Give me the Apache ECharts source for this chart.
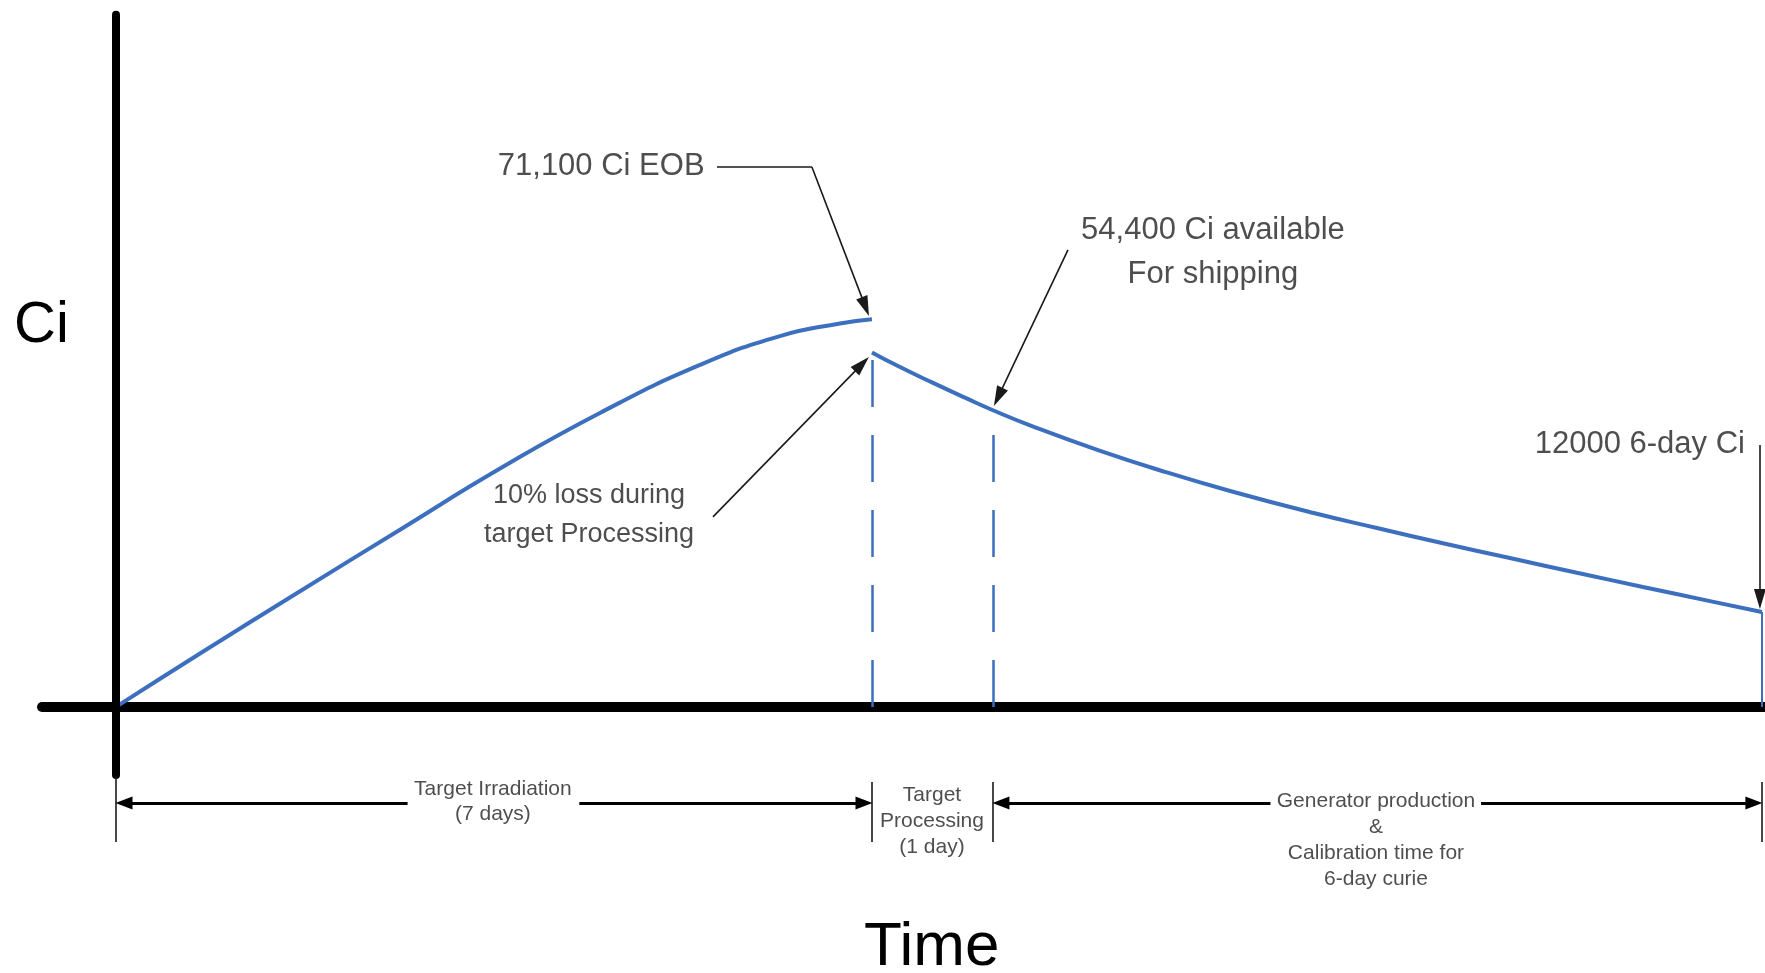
<!DOCTYPE html>
<html><head><meta charset="utf-8">
<script src="https://cdn.jsdelivr.net/npm/echarts@6/dist/echarts.min.js"></script>
<style>html,body{margin:0;padding:0;background:#fff}#c{width:1765px;height:973px}</style>
</head><body><div id="c"></div>
<script>
// Activity build-up during irradiation (time in days, activity in Ci)
const buildTime = [0, 0.778, 1.704, 2.63, 3.556, 4.481, 5.407, 6.148, 6.704, 7.0];
const buildCi   = [0, 9800, 21200, 32500, 43700, 53900, 62700, 68000, 70300, 71100];
// Decay after the 10% processing loss
const decayTime = [7.0, 7.241, 7.556, 7.861, 8.12, 8.481, 9.093, 9.713, 10.333, 11.10, 11.676, 12.287, 12.907, 13.528, 14.139, 14.759, 15.24];
const decayCi   = [65000, 62500, 59500, 56700, 54400, 51500, 47100, 43100, 39500, 35500, 32800, 30000, 27300, 24600, 22000, 19400, 17400];
const shipIndex = 4;
// Phase boundaries (days): start, end of irradiation (EOB), end of processing, calibration
const phaseBounds = [0, 7, 8.12, 15.24];
const phaseLabels = ['Target Irradiation\n(7 days)', 'Target\nProcessing\n(1 day)', 'Generator production\n&\nCalibration time for\n6-day curie'];
const noteTexts = ['71,100 Ci EOB', '10% loss during\ntarget Processing', '54,400 Ci available\nFor shipping', '12000 6-day Ci'];

const FONT = "'Liberation Sans', Arial, sans-serif";
const BLUE = '#3d6fbf';
const TXT = '#222';

const zip = (a, b) => a.map((v, i) => [v, b[i]]);
const dimY = -17600, tickTop = -13750, tickBot = -24750;
const aOff = 0.074;
// gaps in the span arrows where their labels sit (days)
const gap1 = [2.70, 4.29], gap3 = [10.69, 12.64];

const chart = echarts.init(document.getElementById('c'));
chart.setOption({
  animation: false,
  textStyle: { fontFamily: FONT },
  grid: { left: 42, right: 0, top: 11, bottom: 73 },
  xAxis: {
    type: 'value', min: -0.685, max: 15.269,
    axisLine: { show: true, onZero: true, lineStyle: { color: '#000', width: 10 } },
    axisTick: { show: false }, axisLabel: { show: false }, splitLine: { show: false }
  },
  yAxis: {
    type: 'value', min: -35400, max: 127600,
    axisLine: { show: false }, axisTick: { show: false }, axisLabel: { show: false }, splitLine: { show: false }
  },
  graphic: [
    { type: 'text', left: 14, top: 297, style: { text: 'Ci', font: "58px " + FONT, fill: '#000' } },
    { type: 'text', left: 864, top: 917, style: { text: 'Time', font: "62px " + FONT, fill: '#000' } }
  ],
  series: [
    {
      name: 'build', type: 'line', data: zip(buildTime, buildCi), smooth: 0.5,
      showSymbol: false, symbol: 'none', lineStyle: { color: BLUE, width: 4 }, z: 5
    },
    {
      name: 'decay', type: 'line', data: zip(decayTime, decayCi), smooth: 0.5,
      showSymbol: false, symbol: 'none', lineStyle: { color: BLUE, width: 4 }, z: 5,
      markLine: {
        silent: true, symbol: ['none', 'none'], label: { show: false },
        data: [
          [{ coord: [phaseBounds[1], 0], lineStyle: { type: [47, 28], width: 2.5, color: BLUE } }, { coord: [phaseBounds[1], decayCi[0]] }],
          [{ coord: [phaseBounds[2], 0], lineStyle: { type: [47, 28], width: 2.5, color: BLUE } }, { coord: [phaseBounds[2], decayCi[shipIndex]] }],
          [{ coord: [phaseBounds[3], 0], lineStyle: { type: 'solid', width: 2, color: BLUE } }, { coord: [phaseBounds[3], decayCi[decayCi.length - 1]] }]
        ]
      }
    },
    // vertical (Ci) axis
    {
      name: 'yaxis', type: 'lines', coordinateSystem: 'cartesian2d', silent: true, z: 6,
      lineStyle: { color: '#000', width: 8, opacity: 1, curveness: 0, cap: 'round' },
      data: [{ coords: [[0, 126900], [0, -12500]] }]
    },
    // leader lines without arrow and phase ticks
    {
      name: 'leaderPlain', type: 'lines', coordinateSystem: 'cartesian2d', silent: true, z: 7,
      lineStyle: { color: '#1a1a1a', width: 1.6, opacity: 1, curveness: 0 },
      data: [
        { coords: [[5.565, 99010], [6.444, 99010]] },
        { coords: [[phaseBounds[0], tickTop + 1000], [phaseBounds[0], tickBot]] },
        { coords: [[phaseBounds[1], tickTop], [phaseBounds[1], tickBot]] },
        { coords: [[phaseBounds[2], tickTop], [phaseBounds[2], tickBot]] },
        { coords: [[phaseBounds[3], tickTop], [phaseBounds[3], tickBot]] }
      ]
    },
    // leader lines with arrowheads
    {
      name: 'leaderArrow', type: 'lines', coordinateSystem: 'cartesian2d', silent: true, z: 7,
      symbol: ['none', 'triangle'], symbolSize: [[12, 20], [12, 20]],
      lineStyle: { color: '#1a1a1a', width: 1.6, opacity: 1, curveness: 0 },
      itemStyle: { color: '#000' },
      data: [
        { coords: [[6.444, 99010], [6.939, 73400]] },
        { coords: [[5.528, 34840], [6.907, 62850]] },
        { coords: [[8.815, 83790], [8.169, 56840]] },
        { coords: [[15.222, 48040], [15.222, 19800]] }
      ]
    },
    // time-span dimension arrows (left halves, arrow at start)
    {
      name: 'spansL', type: 'lines', coordinateSystem: 'cartesian2d', silent: true, z: 7,
      symbol: ['triangle', 'none'], symbolSize: [[13, 17], [13, 17]],
      lineStyle: { color: '#000', width: 3, opacity: 1, curveness: 0 },
      data: [
        { coords: [[phaseBounds[0] + aOff, dimY], [gap1[0], dimY]] },
        { coords: [[phaseBounds[2] + aOff, dimY], [gap3[0], dimY]] }
      ]
    },
    // time-span dimension arrows (right halves, arrow at end)
    {
      name: 'spansR', type: 'lines', coordinateSystem: 'cartesian2d', silent: true, z: 7,
      symbol: ['none', 'triangle'], symbolSize: [[13, 17], [13, 17]],
      lineStyle: { color: '#000', width: 3, opacity: 1, curveness: 0 },
      data: [
        { coords: [[gap1[1], dimY], [phaseBounds[1] - aOff, dimY]] },
        { coords: [[gap3[1], dimY], [phaseBounds[3] - aOff, dimY]] }
      ]
    },
    // text annotations
    {
      name: 'notes', type: 'scatter', silent: true, z: 20, symbolSize: 1,
      itemStyle: { color: 'rgba(0,0,0,0)' },
      data: [
        { value: [5.45, 99010], label: { show: true, position: 'inside', formatter: noteTexts[0], align: 'right', verticalAlign: 'middle', fontSize: 31, color: TXT } },
        { value: [4.38, 35110], label: { show: true, position: 'inside', formatter: noteTexts[1], align: 'center', verticalAlign: 'middle', fontSize: 27, lineHeight: 39, color: TXT } },
        { value: [10.157, 83240], label: { show: true, position: 'inside', formatter: noteTexts[2], align: 'center', verticalAlign: 'middle', fontSize: 31, lineHeight: 44, color: TXT } },
        { value: [15.083, 48040], label: { show: true, position: 'inside', formatter: noteTexts[3], align: 'right', verticalAlign: 'middle', fontSize: 31, color: TXT } },
        { value: [3.49, -17330], label: { show: true, position: 'inside', formatter: phaseLabels[0], align: 'center', verticalAlign: 'middle', fontSize: 21, lineHeight: 25, color: TXT } },
        { value: [7.556, -20900], label: { show: true, position: 'inside', formatter: phaseLabels[1], align: 'center', verticalAlign: 'middle', fontSize: 21, lineHeight: 26, color: TXT } },
        { value: [11.667, -24400], label: { show: true, position: 'inside', formatter: phaseLabels[2], align: 'center', verticalAlign: 'middle', fontSize: 21, lineHeight: 26, color: TXT } }
      ]
    }
  ]
});
</script></body></html>
